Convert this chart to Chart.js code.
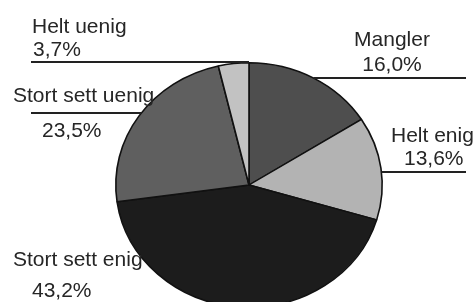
<!DOCTYPE html>
<html>
<head>
<meta charset="utf-8">
<script src="https://cdn.jsdelivr.net/npm/chart.js"></script>
<style>
  html, body { margin: 0; padding: 0; background: #fff; width: 474px; height: 302px; overflow: hidden; }
  #wrap { width: 474px; height: 340px; }
</style>
</head>
<body>
<div id="wrap"><canvas id="pie" width="474" height="340"></canvas></div>
<script>
// data (clockwise from the top)
const categories = ["Mangler", "Helt enig", "Stort sett enig", "Stort sett uenig", "Helt uenig"];
const values = [16.0, 13.6, 43.2, 23.5, 3.7];
const valueLabels = ["16,0%", "13,6%", "43,2%", "23,5%", "3,7%"];
const sliceColors = ["#4e4e4e", "#b3b3b3", "#1c1c1c", "#5f5f5f", "#c2c2c2"];

// where each label sits (name line, value line, optional leader line)
const labelLayout = [
  { align: "center", x: 392, y1: 46, x2: 392, y2: 71, lineY: 78, side: "right", lineEnd: 466 },
  { align: "left", x: 391, y1: 142, x2: 404, y2: 165, lineY: 172, side: "right", lineEnd: 466 },
  { align: "left", x: 13, y1: 266, x2: 32, y2: 297, lineY: null },
  { align: "left", x: 13, y1: 102, x2: 42, y2: 137, lineY: 113, side: "left", lineEnd: 31 },
  { align: "left", x: 32, y1: 33, x2: 33, y2: 56, lineY: 62, side: "left", lineEnd: 31 }
];

const squash = 123 / 134; // the scanned pie is a little flatter than round

const ellipsePlugin = {
  id: 'ellipse',
  beforeDatasetsDraw(chart) {
    const arc = chart.getDatasetMeta(0).data[0];
    const ctx = chart.ctx;
    ctx.save();
    ctx.translate(arc.x, arc.y);
    ctx.scale(1, squash);
    ctx.translate(-arc.x, -arc.y);
  },
  afterDatasetsDraw(chart) {
    chart.ctx.restore();
  }
};

const labelPlugin = {
  id: 'pieLabels',
  afterDraw(chart) {
    const ctx = chart.ctx;
    const arc = chart.getDatasetMeta(0).data[0];
    const cx = arc.x, cy = arc.y;
    const rx = arc.outerRadius, ry = arc.outerRadius * squash;

    ctx.save();
    // leader lines
    ctx.strokeStyle = "#222";
    ctx.lineWidth = 2;
    labelLayout.forEach(l => {
      if (l.lineY == null) return;
      const dy = (l.lineY - cy) / ry;
      const half = rx * Math.sqrt(Math.max(0, 1 - dy * dy));
      const edge = l.side === "left" ? cx - half : cx + half;
      ctx.beginPath();
      ctx.moveTo(l.lineEnd, l.lineY);
      ctx.lineTo(edge, l.lineY);
      ctx.stroke();
    });

    ctx.fillStyle = "#262626";
    ctx.font = "21px 'Liberation Sans', Arial, sans-serif";
    ctx.textBaseline = "alphabetic";
    labelLayout.forEach((l, i) => {
      ctx.textAlign = l.align;
      ctx.fillText(categories[i], l.x, l.y1);
      ctx.fillText(valueLabels[i], l.x2, l.y2);
    });
    ctx.restore();
  }
};

const chart = new Chart(document.getElementById('pie'), {
  type: 'pie',
  data: {
    labels: categories,
    datasets: [{
      data: values,
      backgroundColor: sliceColors,
      borderColor: "#111",
      borderWidth: 1.6
    }]
  },
  options: {
    responsive: false,
    animation: false,
    layout: { padding: { left: 115, right: 91, top: 51, bottom: 21 } },
    plugins: {
      legend: { display: false },
      tooltip: { enabled: false }
    }
  },
  plugins: [ellipsePlugin, labelPlugin]
});
</script>
</body>
</html>
